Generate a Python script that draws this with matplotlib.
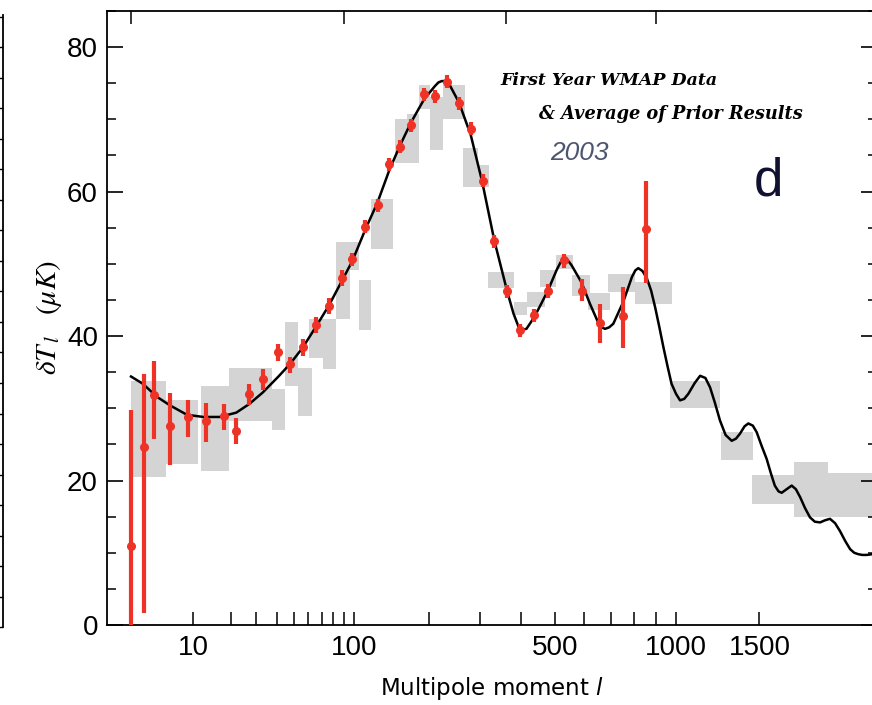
import numpy as np
import matplotlib
matplotlib.use("Agg")
import matplotlib.pyplot as plt
from matplotlib.ticker import FixedLocator, NullFormatter, FixedFormatter, MultipleLocator

# WMAP first-year binned points (multipole, dT in uK, lower/upper error)
wmap_l = [2, 3, 4, 6, 9, 13, 18, 22, 27, 33, 41, 48, 56, 66, 76, 88, 98, 112, 126, 141,
          155, 171, 192, 210, 231, 255, 279, 305, 332, 364, 398, 437, 479, 530, 590, 658, 752, 852]
wmap_dt = [10.9, 24.7, 31.8, 27.5, 28.8, 28.2, 28.9, 26.9, 32.0, 34.1, 37.8, 36.1, 38.5, 41.6,
           44.1, 48.1, 50.6, 55.1, 58.1, 63.8, 66.2, 69.2, 73.5, 73.2, 75.2, 72.2, 68.7, 61.5,
           53.1, 46.2, 40.8, 42.9, 46.2, 50.5, 46.3, 41.8, 42.8, 54.8]
err_lo = [20.0, 23.0, 6.0, 5.3, 2.8, 2.9, 1.9, 1.9, 1.5, 1.5, 1.2, 1.2, 1.2, 1.2, 1.0, 1.2,
          0.9, 0.9, 0.9, 0.9, 0.9, 0.9, 0.9, 0.9, 0.9, 0.9, 0.9, 0.9, 0.9, 0.9, 0.9, 0.9,
          1.0, 1.1, 1.5, 2.8, 4.4, 7.5]
err_hi = [18.8, 10.1, 4.7, 4.6, 2.3, 2.5, 1.7, 1.7, 1.4, 1.4, 1.1, 1.0, 1.1, 1.1, 1.1, 1.1,
          0.9, 0.9, 0.9, 0.9, 0.9, 0.9, 0.9, 0.9, 0.9, 0.9, 0.9, 0.9, 0.9, 0.9, 0.9, 0.9,
          1.0, 0.9, 1.6, 2.6, 4.0, 6.7]

# best-fit model curve
theory_l = [2, 2.9, 4.3, 6, 8.8, 12.3, 16.6, 22, 27, 33, 41, 48, 56, 66, 76, 88, 98, 112, 126,
            141, 155, 171, 192, 210, 216, 222, 228, 235, 255, 279, 304, 332, 364, 380, 397, 415,
            437, 458, 479, 505, 518, 530, 542, 555, 590, 620, 651, 665, 678, 694, 711, 752, 790,
            805, 818, 837, 857, 877, 896, 916, 936, 957, 977, 1000, 1021, 1043, 1065, 1100, 1130,
            1160, 1187, 1215, 1246, 1280, 1318, 1345, 1371, 1400, 1425, 1455, 1481, 1515, 1550,
            1580, 1608, 1635, 1658, 1695, 1733, 1765, 1798, 1836, 1876, 1915, 1958, 2000, 2041,
            2085, 2128, 2175, 2218, 2255, 2293, 2330, 2372, 2423]
theory_dt = [34.4, 33.4, 31.6, 30.4, 29.1, 28.8, 28.8, 29.4, 30.6, 32.2, 34.4, 36.2, 38.4, 41.4,
             44.2, 47.7, 50.4, 54.8, 58.5, 63.0, 66.3, 69.5, 72.8, 74.6, 75.1, 75.3, 75.3, 75.0,
             72.3, 67.8, 61.3, 53.2, 46.1, 43.1, 40.8, 41.0, 42.6, 44.5, 46.4, 49.1, 50.2, 50.7,
             50.5, 49.8, 47.4, 44.5, 41.9, 41.2, 41.0, 41.2, 41.7, 44.7, 48.2, 49.1, 49.4, 49.0,
             48.0, 46.3, 44.0, 41.3, 38.5, 35.8, 33.4, 32.0, 31.1, 31.3, 32.0, 33.5, 34.5, 34.2,
             32.9, 30.8, 28.3, 26.3, 25.5, 25.8, 26.5, 27.5, 27.9, 27.6, 26.7, 24.8, 23.0, 21.0,
             19.3, 18.5, 18.3, 18.8, 19.3, 18.8, 17.7, 16.2, 14.9, 14.3, 14.2, 14.5, 14.7, 14.1,
             13.0, 11.6, 10.5, 10.0, 9.8, 9.7, 9.7, 9.8]

# average of prior results: l range and dT range of each grey box
box_l_lo = [2.0, 5.4, 11.7, 19.6, 37.4, 44.8, 53.1, 60.7, 71.0, 82.1, 91.7, 105, 118, 149, 165,
            183, 202, 224, 263, 295, 316, 380, 417, 454, 505, 555, 614, 691, 803, 970, 1250,
            1447, 1747, 2028]
box_l_hi = [5.4, 11.1, 19.6, 37.4, 44.8, 53.1, 62.5, 71.0, 82.1, 95.7, 105, 118, 146, 165, 183,
            202, 224, 267, 295, 320, 380, 417, 469, 505, 561, 620, 698, 803, 977, 1246, 1458,
            1747, 2028, 2500]
box_lo = [20.5, 22.3, 21.3, 28.3, 27.0, 33.1, 29.0, 37.0, 35.5, 42.4, 49.1, 40.8, 52.1, 63.9,
          63.9, 71.5, 65.7, 70.1, 60.7, 60.7, 46.6, 42.9, 44.0, 46.8, 49.3, 45.6, 43.6, 46.1,
          44.5, 30.1, 22.8, 16.7, 14.9, 14.9]
box_hi = [33.8, 31.1, 33.1, 35.6, 32.7, 42.0, 35.6, 42.4, 42.4, 53.0, 53.0, 47.8, 59.0, 70.1,
          70.8, 74.8, 73.1, 74.8, 66.0, 63.7, 48.9, 44.7, 46.1, 49.1, 51.2, 48.4, 45.9, 48.6,
          47.5, 33.8, 26.7, 20.8, 22.5, 21.1]

x_major = [10, 100, 500, 1000, 1500]
x_minor = [20, 30, 40, 50, 60, 70, 80, 90, 200, 300, 400, 600, 700, 800, 900]
top_ticks = [2, 90, 360, 900]   # angular scale 90, 2, 0.5, 0.2 deg

RED = "#ee3326"
GREY = "#d4d4d4"
NUM_FONT = "Liberation Sans"


def fwd(x):
    x = np.asarray(x, dtype=float)
    return np.sign(x) * np.abs(x) ** 0.3


def inv(y):
    y = np.asarray(y, dtype=float)
    return np.sign(y) * np.abs(y) ** (1 / 0.3)


W, H = 872, 705
fig = plt.figure(figsize=(W / 100, H / 100), dpi=100)
ax = fig.add_axes([107 / W, 80 / H, 770 / W, 614 / H])
ax.set_xscale("function", functions=(fwd, inv))
ax.set_xlim(0.8, 2470)
ax.set_ylim(0, 85)

box_lo_a = np.array(box_lo)
box_l_lo_a = np.array(box_l_lo)
ax.bar(box_l_lo, np.array(box_hi) - box_lo_a, width=np.array(box_l_hi) - box_l_lo_a,
       bottom=box_lo, align="edge", color=GREY, linewidth=0, zorder=1)
ax.plot(theory_l, theory_dt, color="black", lw=1.8, zorder=2, solid_joinstyle="round")
ax.errorbar(wmap_l, wmap_dt, yerr=[err_lo, err_hi], fmt="o", color=RED, ms=5.5,
            elinewidth=3.0, capsize=0, zorder=3)

# axes cosmetics
for s in ax.spines.values():
    s.set_linewidth(1.3)
ax.xaxis.set_major_locator(FixedLocator(x_major))
ax.xaxis.set_major_formatter(FixedFormatter([str(v) for v in x_major]))
ax.xaxis.set_minor_locator(FixedLocator(x_minor))
ax.xaxis.set_minor_formatter(NullFormatter())
ax.yaxis.set_major_locator(MultipleLocator(20))
ax.yaxis.set_minor_locator(MultipleLocator(5))
ax.tick_params(axis="both", which="both", direction="in", top=False, right=True)
ax.tick_params(axis="x", which="both", length=9.5, width=1.1, pad=7)
ax.tick_params(axis="y", which="major", length=11.5, width=1.2, pad=6.5)
ax.tick_params(axis="y", which="minor", length=6.5, width=1.1)
for lab in ax.get_xticklabels() + ax.get_yticklabels():
    lab.set_family(NUM_FONT)
    lab.set_fontsize(20)

ax.set_xlabel("Multipole moment $l$", fontsize=16.5, family="DejaVu Sans", labelpad=10)
ax.set_ylabel(r"$\delta T_{\,l}\ \ \ (\mu K)$", fontsize=21, math_fontfamily="stix",
              labelpad=2)

# top axis: angular scale ticks without labels
ax2 = ax.twiny()
ax2.set_xscale("function", functions=(fwd, inv))
ax2.set_xlim(ax.get_xlim())
ax2.xaxis.set_major_locator(FixedLocator(top_ticks))
ax2.xaxis.set_minor_locator(FixedLocator([]))
ax2.tick_params(axis="x", which="both", direction="in", length=9.5, width=1.1, labeltop=False)
for s in ax2.spines.values():
    s.set_visible(False)

# edge of the neighbouring panel on the left
axl = fig.add_axes([2.5 / W - 0.3, 78 / H, 0.3, 612 / H])
axl.set_ylim(0, 612 / 30.5)
axl.set_xticks([])
for name, s in axl.spines.items():
    s.set_visible(name == "right")
axl.spines["right"].set_linewidth(1.3)
axl.yaxis.tick_right()
axl.yaxis.set_major_locator(MultipleLocator(1))
axl.tick_params(axis="y", direction="in", length=3, width=1.0, labelright=False)
axl.patch.set_visible(False)

# annotations
fig.text(500.7 / W, 1 - 85 / H, "First Year WMAP Data", family="DejaVu Serif", style="italic",
         weight="bold", fontsize=12.5, va="baseline")
fig.text(539.3 / W, 1 - 119 / H, "& Average of Prior Results", family="DejaVu Serif",
         style="italic", weight="bold", fontsize=12.8, va="baseline")
fig.text(550 / W, 1 - 160 / H, "2003", family="Liberation Sans", style="italic", fontsize=19,
         color="#4d5570", va="baseline")
fig.text(754 / W, 1 - 195 / H, "d", family="Liberation Sans", fontsize=38, color="#101030",
         va="baseline")

fig.savefig("out.png", dpi=100)
